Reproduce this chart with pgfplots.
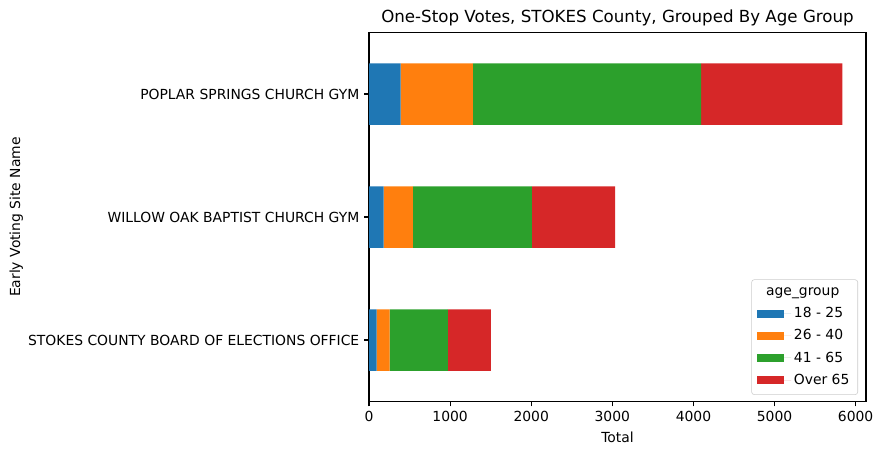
\documentclass[border=0pt]{standalone}
\usepackage{pgfplots}
\pgfplotsset{compat=1.18}
\usepackage{fontspec}
\setmainfont{DejaVu Sans}
\definecolor{tabblue}{HTML}{1F77B4}
\definecolor{taborange}{HTML}{FF7F0E}
\definecolor{tabgreen}{HTML}{2CA02C}
\definecolor{tabred}{HTML}{D62728}
\begin{document}
\begin{tikzpicture}
\useasboundingbox (-265.7pt,-38.5pt) rectangle (368.6pt,289.1pt);
\begin{axis}[
  at={(0,0)}, anchor=south west,
  scale only axis, width=357.8pt, height=265.7pt,
  xbar stacked, bar width=0.5,
  xmin=0, xmax=6128, ymin=-0.5, ymax=2.5,
  xtick={0,1000,...,6000}, ytick={0,1,2},
  yticklabels={STOKES COUNTY BOARD OF ELECTIONS OFFICE,WILLOW OAK BAPTIST CHURCH GYM,POPLAR SPRINGS CHURCH GYM},
  scaled x ticks=false,
  /pgf/number format/1000 sep={},
  /pgf/number format/assume math mode=true,
  tick pos=left, tick align=outside,
  major tick length=3.5pt,
  every tick/.style={black, line width=0.8pt},
  axis line style={line width=0.8pt},
  font=\fontsize{10}{12}\selectfont,
  ticklabel style={font=\fontsize{10}{12}\selectfont},
  title={One-Stop Votes, STOKES County, Grouped By Age Group},
  every axis title shift=0pt,
  title style={at={(axis description cs:0.5,1.039)}, anchor=center, font=\fontsize{12}{14}\selectfont},
  xlabel={Total},
  xlabel style={at={(axis description cs:0.5,-0.096)}, anchor=center},
  ylabel={Early Voting Site Name},
  ylabel style={at={(axis description cs:-0.710,0.5)}, anchor=center},
  legend image code/.code={\fill[#1, sharp corners] (0pt,-3pt) rectangle (19.2pt,3pt);
    \path (0pt,0pt) -- (24.5pt,0pt);},
  legend cell align=left,
  legend style={at={(axis description cs:0.984,0.018)}, anchor=south east,
    draw=black!20, rounded corners=2pt, fill=white,
    font=\fontsize{10}{12}\selectfont, row sep=3pt,
    inner xsep=4pt, inner ysep=4pt},
]
\addlegendimage{empty legend}
\addlegendentry{\hspace*{-20pt}age\_group}
\addplot[fill=tabblue, draw=none] coordinates {(95,0) (181,1) (391,2)};
\addlegendentry{18 - 25}
\addplot[fill=taborange, draw=none] coordinates {(160,0) (359,1) (889,2)};
\addlegendentry{26 - 40}
\addplot[fill=tabgreen, draw=none] coordinates {(717,0) (1469,1) (2815,2)};
\addlegendentry{41 - 65}
\addplot[fill=tabred, draw=none] coordinates {(530,0) (1025,1) (1741,2)};
\addlegendentry{Over 65}
\end{axis}
\end{tikzpicture}
\end{document}
